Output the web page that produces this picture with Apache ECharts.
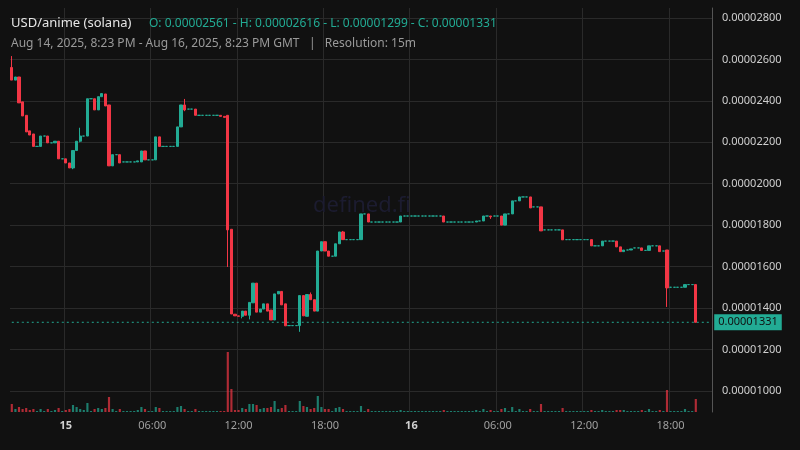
<!DOCTYPE html>
<html><head><meta charset="utf-8">
<script src="https://cdn.jsdelivr.net/npm/echarts@6/dist/echarts.min.js"></script>
<style>html,body{margin:0;padding:0;background:#111111;}#c{width:800px;height:450px;}</style>
</head><body><div id="c"></div>
<script>
// rows: [open, close, volume, low?, high?]  (prices in 1e-6 USD)
const candles = [
[25.61,25.0,8,25.0,26.16],[25.0,25.15,3],[25.15,23.9,5],[23.95,23.27,3],[23.3,22.5,4],[22.55,22.35,2],[22.4,21.8,3],[21.8,21.8,1],
[21.8,22.3,3],[22.3,22.3,1],[22.3,21.97,3],[21.97,21.97,1],[21.97,22.05,2],[22.05,21.2,4],[21.2,21.2,1],[21.2,21.0,2],
[21.0,20.76,3],[20.76,21.6,7,20.7],[21.6,22.05,5],[22.05,22.3,3,22.0,22.7],[22.3,22.3,2],[22.3,24.1,9],[24.1,24.1,1],[24.1,23.56,3],
[23.56,24.2,4],[24.2,24.35,3],[24.33,23.75,4],[23.8,20.86,15],[20.86,21.4,3],[21.4,21.4,1],[21.4,21.0,3],
[21.05,21.05,1],[21.05,21.05,1],[21.05,21.05,1],[21.05,21.05,1],[21.05,21.1,2],[21.05,21.58,5],[21.58,21.15,3],[21.15,21.15,1],[21.15,21.15,1],
[21.15,22.26,5],[22.26,21.8,4],[21.8,21.8,1],[21.8,21.8,1],[21.8,21.8,1],[21.8,21.8,1],[21.8,22.74,5],[22.74,23.8,6],
[23.8,23.56,3,23.5,24.09],[23.6,23.6,1],[23.6,23.6,1],[23.6,23.3,3],[23.3,23.3,1],[23.3,23.3,1],[23.3,23.3,1],[23.3,23.3,1],[23.3,23.3,1],[23.3,23.3,1],
[23.3,23.25,1],[23.25,23.2,1],[23.3,17.77,60,15.98],[17.8,13.71,23],[13.7,13.62,2],[13.62,13.6,2],[13.6,13.85,4,13.5],[13.85,13.65,3],
[13.65,14.27,8,13.45],[14.25,15.2,8],[15.2,13.8,7],[13.8,13.95,3],[13.95,14.2,4],[14.2,13.85,4],[13.9,13.42,5],[13.42,14.68,11],
[14.68,14.8,3],[14.8,14.15,4],[14.2,13.14,7],[13.15,13.15,1],[13.15,13.15,1],[13.15,13.15,1],[13.15,14.6,11,12.85],[14.6,13.62,6],[13.6,14.65,5],
[14.65,14.4,3,14.4,14.75],[14.4,13.85,4],[13.85,16.75,16],[16.75,17.2,5],[17.2,16.75,3],[16.75,16.5,3],[16.5,16.5,1],[16.5,17.1,4],
[17.1,17.67,5],[17.67,17.3,3,17.3,17.72],[17.3,17.3,1],[17.3,17.3,1],[17.3,17.3,1],[17.3,17.3,1],[17.3,18.54,6],[18.54,18.54,1],[18.54,18.15,3],
[18.15,18.15,1],[18.15,18.15,1],[18.15,18.15,1],[18.15,18.15,1],[18.15,18.15,1],[18.15,18.15,1],[18.15,18.15,1],[18.15,18.15,1],
[18.15,18.44,2],[18.44,18.44,1],[18.44,18.44,1],[18.44,18.44,1],[18.44,18.44,1],[18.44,18.44,1],[18.44,18.44,1],[18.44,18.44,1],
[18.44,18.44,1],[18.44,18.44,1],[18.44,18.44,1],[18.44,18.44,1],[18.44,18.15,2],[18.15,18.15,1],[18.15,18.15,1],[18.15,18.15,1],
[18.15,18.15,1],[18.15,18.15,1],[18.15,18.15,1],[18.15,18.15,1],[18.15,18.15,1],[18.15,18.2,2],[18.2,18.2,1],[18.2,18.44,3],
[18.44,18.44,1],[18.44,18.4,2,18.3,18.44],[18.44,18.44,1],[18.44,18.44,1],[18.44,18.0,3],[18.0,18.54,4],[18.54,18.54,1],[18.54,19.17,5],
[19.17,19.17,1],[19.17,19.36,3],[19.36,19.36,1],[19.36,19.36,1],[19.36,18.83,3],[18.88,18.88,1],[18.88,18.88,1],[18.88,17.72,8],
[17.77,17.77,1],[17.77,17.77,1],[17.77,17.77,1],[17.77,17.77,1],[17.77,17.77,1],[17.77,17.29,4],[17.3,17.3,1],[17.3,17.3,1],
[17.3,17.3,1],[17.3,17.3,1],[17.3,17.3,1],[17.3,17.3,1],[17.3,17.3,1],[17.3,17.0,2],[17.0,17.0,1],[17.0,17.0,1],
[17.0,17.23,2],[17.23,17.23,1],[17.23,17.23,1],[17.23,17.23,1],[17.23,16.95,2],[16.95,16.72,2],[16.72,16.8,2],[16.8,16.8,1],
[16.8,16.85,1],[16.9,16.9,1],[16.9,16.9,1],[16.9,16.78,2],[16.78,16.78,1],[16.78,17.0,3],[17.0,17.0,1],[17.0,17.0,1],
[17.0,16.72,2],[16.75,16.75,1],[16.8,14.97,22,14.05],[15.0,15.0,1],[15.0,15.0,1],[15.0,15.0,1],[15.0,15.0,1],[15.0,15.13,3],
[15.13,15.13,1],[15.13,15.13,1],[15.13,13.31,13]
];
const yTicks = [10,12,14,16,18,20,22,24,26,28];
const lastClose = 13.31;
const lastLabel = '0.00001331';
const rightPad = 4; // empty slots after last candle

const UP='#22ab94', DOWN='#f23645';
const n = candles.length;
const startT = Date.UTC(2025,7,14,20,15);
const cats=[], kdata=[], vdata=[], lineData=[];
for(let i=0;i<n+rightPad;i++){
  const t=new Date(startT+i*15*60000);
  const hh=String(t.getUTCHours()).padStart(2,'0'), mm=String(t.getUTCMinutes()).padStart(2,'0');
  cats.push(hh+':'+mm+'|'+t.getUTCDate());
  lineData.push(lastClose*1e-6);
}
candles.forEach((r)=>{
  const o=r[0]*1e-6,c=r[1]*1e-6;
  const l=(r[3]!==undefined?Math.min(r[3],r[0],r[1]):Math.min(r[0],r[1]))*1e-6;
  const h=(r[4]!==undefined?r[4]:Math.max(r[0],r[1]))*1e-6;
  kdata.push([o,c,l,h]);
  vdata.push({value:r[2],itemStyle:{color:(r[1]>=r[0]?'rgba(34,171,148,0.7)':'rgba(242,54,69,0.7)')}});
});
const isMark=(i)=>/^(00|06|12|18):00/.test(cats[i]);
const fmtLabel=(v)=>{const [hm,d]=v.split('|');return hm==='00:00'?'{b|'+d+'}':hm;};

const chart=echarts.init(document.getElementById('c'));
chart.setOption({
  backgroundColor:'#111111',
  animation:false,
  title:[
    {text:'USD/anime (solana)',left:6,top:12,textStyle:{color:'#e6e6e6',fontSize:13,fontWeight:'normal',fontFamily:'Noto Sans'}},
    {text:'O: 0.00002561 - H: 0.00002616 - L: 0.00001299 - C: 0.00001331',left:144,top:13,textStyle:{color:'#22ab94',fontSize:12,fontWeight:'normal',fontFamily:'Noto Sans'}},
    {text:'Aug 14, 2025, 8:23 PM - Aug 16, 2025, 8:23 PM GMT   |   Resolution: 15m',left:6,top:33,textStyle:{color:'#9a9a9a',fontSize:12,fontWeight:'normal',fontFamily:'Noto Sans'}},
    {text:'defined.fi',left:308,top:190,textStyle:{color:'#1c1c30',fontSize:22,fontWeight:'normal',fontFamily:'Noto Sans'}}
  ],
  grid:[{left:10,right:88,top:8,bottom:38},{left:10,right:88,top:340,bottom:38}],
  xAxis:[
    {type:'category',data:cats,gridIndex:0,boundaryGap:true,axisLine:{show:false},axisTick:{show:false},axisLabel:{show:false},
     splitLine:{show:true,interval:(i)=>isMark(i),lineStyle:{color:'#2a2a2a'}}},
    {type:'category',data:cats,gridIndex:1,boundaryGap:true,axisLine:{show:false},axisTick:{show:false},
     axisLabel:{interval:(i)=>isMark(i),formatter:fmtLabel,color:'#a0a0a0',fontSize:11,margin:8,fontFamily:'Noto Sans',
       rich:{b:{fontWeight:'bold',color:'#d0d0d0',fontSize:11}}},splitLine:{show:false}}
  ],
  yAxis:[
    {type:'value',gridIndex:0,position:'right',min:8.98e-6,max:28.48e-6,scale:true,
     axisLine:{show:true,lineStyle:{color:'#555'}},axisTick:{show:false,customValues:yTicks.map(v=>v*1e-6)},
     axisLabel:{customValues:yTicks.map(v=>v*1e-6),formatter:(v)=>v.toFixed(8),color:'#cfcfcf',fontSize:11,margin:10,fontFamily:'Noto Sans'},
     splitLine:{show:true,lineStyle:{color:'#2a2a2a'}}},
    {type:'value',gridIndex:1,min:0,max:72,show:false}
  ],
  series:[
    {type:'line',xAxisIndex:0,yAxisIndex:0,data:lineData,showSymbol:false,silent:true,z:1,
     lineStyle:{color:'#22ab94',type:[2,3],width:1},
     endLabel:{show:true,formatter:()=>lastLabel,backgroundColor:'#22ab94',color:'#111',padding:[3,4,2,4],fontSize:11,fontFamily:'Noto Sans',distance:4}},
    {type:'candlestick',xAxisIndex:0,yAxisIndex:0,data:kdata,barWidth:'75%',z:2,
     itemStyle:{color:UP,color0:DOWN,borderColor:UP,borderColor0:DOWN,borderWidth:1}},
    {type:'bar',xAxisIndex:1,yAxisIndex:1,data:vdata,barWidth:'60%'}
  ]
});
</script></body></html>
